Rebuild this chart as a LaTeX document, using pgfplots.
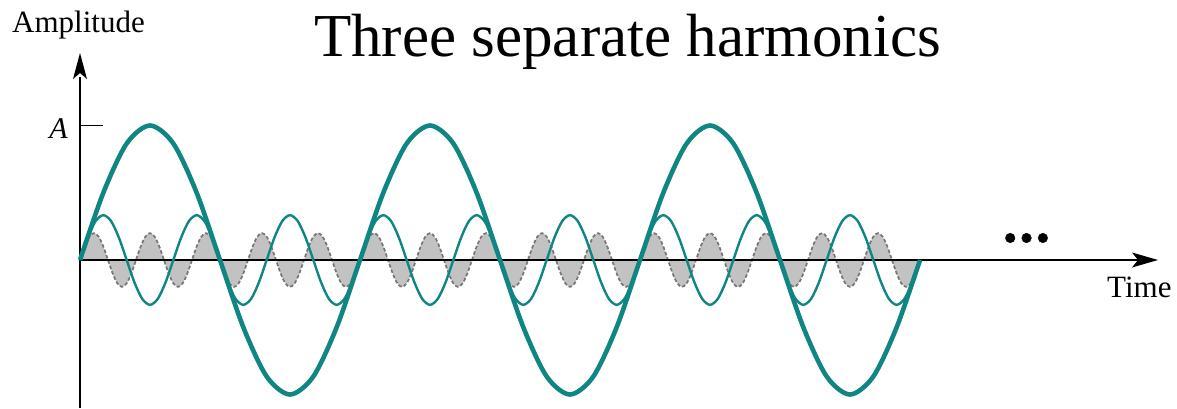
\documentclass[border=0pt]{standalone}
\usepackage{pgfplots}
\pgfplotsset{compat=1.18}
\usepackage{pgfplotstable}
\usepackage{fontspec}
\setmainfont{Liberation Serif}
\usetikzlibrary{arrows.meta}

\definecolor{wave}{RGB}{16,134,130}
\definecolor{fifthfill}{RGB}{194,194,194}
\definecolor{fifthline}{RGB}{118,118,118}

% Fundamental, amplitude A = 1 (phase in degrees of the fundamental)
\pgfplotstableread[row sep=\\]{
x y\\
0 0\\ 30 0.5\\ 60 0.866\\ 90 1\\ 120 0.866\\ 150 0.5\\ 180 0\\ 210 -0.5\\ 240 -0.866\\ 270 -1\\ 300 -0.866\\ 330 -0.5\\
360 0\\ 390 0.5\\ 420 0.866\\ 450 1\\ 480 0.866\\ 510 0.5\\ 540 0\\ 570 -0.5\\ 600 -0.866\\ 630 -1\\ 660 -0.866\\ 690 -0.5\\
720 0\\ 750 0.5\\ 780 0.866\\ 810 1\\ 840 0.866\\ 870 0.5\\ 900 0\\ 930 -0.5\\ 960 -0.866\\ 990 -1\\ 1020 -0.866\\ 1050 -0.5\\
1080 0\\
}\first

% Third harmonic, amplitude A/3
\pgfplotstableread[row sep=\\]{
x y\\
0 0\\ 10 0.1667\\ 20 0.2887\\ 30 0.3333\\ 40 0.2887\\ 50 0.1667\\ 60 0\\ 70 -0.1667\\ 80 -0.2887\\ 90 -0.3333\\ 100 -0.2887\\ 110 -0.1667\\
120 0\\ 130 0.1667\\ 140 0.2887\\ 150 0.3333\\ 160 0.2887\\ 170 0.1667\\ 180 0\\ 190 -0.1667\\ 200 -0.2887\\ 210 -0.3333\\ 220 -0.2887\\ 230 -0.1667\\
240 0\\ 250 0.1667\\ 260 0.2887\\ 270 0.3333\\ 280 0.2887\\ 290 0.1667\\ 300 0\\ 310 -0.1667\\ 320 -0.2887\\ 330 -0.3333\\ 340 -0.2887\\ 350 -0.1667\\
360 0\\ 370 0.1667\\ 380 0.2887\\ 390 0.3333\\ 400 0.2887\\ 410 0.1667\\ 420 0\\ 430 -0.1667\\ 440 -0.2887\\ 450 -0.3333\\ 460 -0.2887\\ 470 -0.1667\\
480 0\\ 490 0.1667\\ 500 0.2887\\ 510 0.3333\\ 520 0.2887\\ 530 0.1667\\ 540 0\\ 550 -0.1667\\ 560 -0.2887\\ 570 -0.3333\\ 580 -0.2887\\ 590 -0.1667\\
600 0\\ 610 0.1667\\ 620 0.2887\\ 630 0.3333\\ 640 0.2887\\ 650 0.1667\\ 660 0\\ 670 -0.1667\\ 680 -0.2887\\ 690 -0.3333\\ 700 -0.2887\\ 710 -0.1667\\
720 0\\ 730 0.1667\\ 740 0.2887\\ 750 0.3333\\ 760 0.2887\\ 770 0.1667\\ 780 0\\ 790 -0.1667\\ 800 -0.2887\\ 810 -0.3333\\ 820 -0.2887\\ 830 -0.1667\\
840 0\\ 850 0.1667\\ 860 0.2887\\ 870 0.3333\\ 880 0.2887\\ 890 0.1667\\ 900 0\\ 910 -0.1667\\ 920 -0.2887\\ 930 -0.3333\\ 940 -0.2887\\ 950 -0.1667\\
960 0\\ 970 0.1667\\ 980 0.2887\\ 990 0.3333\\ 1000 0.2887\\ 1010 0.1667\\ 1020 0\\ 1030 -0.1667\\ 1040 -0.2887\\ 1050 -0.3333\\ 1060 -0.2887\\ 1070 -0.1667\\
1080 0\\
}\third

% Fifth harmonic, amplitude A/5
\pgfplotstableread[row sep=\\]{
x y\\
0 0\\ 6 0.1\\ 12 0.1732\\ 18 0.2\\ 24 0.1732\\ 30 0.1\\ 36 0\\ 42 -0.1\\ 48 -0.1732\\ 54 -0.2\\ 60 -0.1732\\ 66 -0.1\\
72 0\\ 78 0.1\\ 84 0.1732\\ 90 0.2\\ 96 0.1732\\ 102 0.1\\ 108 0\\ 114 -0.1\\ 120 -0.1732\\ 126 -0.2\\ 132 -0.1732\\ 138 -0.1\\
144 0\\ 150 0.1\\ 156 0.1732\\ 162 0.2\\ 168 0.1732\\ 174 0.1\\ 180 0\\ 186 -0.1\\ 192 -0.1732\\ 198 -0.2\\ 204 -0.1732\\ 210 -0.1\\
216 0\\ 222 0.1\\ 228 0.1732\\ 234 0.2\\ 240 0.1732\\ 246 0.1\\ 252 0\\ 258 -0.1\\ 264 -0.1732\\ 270 -0.2\\ 276 -0.1732\\ 282 -0.1\\
288 0\\ 294 0.1\\ 300 0.1732\\ 306 0.2\\ 312 0.1732\\ 318 0.1\\ 324 0\\ 330 -0.1\\ 336 -0.1732\\ 342 -0.2\\ 348 -0.1732\\ 354 -0.1\\
360 0\\ 366 0.1\\ 372 0.1732\\ 378 0.2\\ 384 0.1732\\ 390 0.1\\ 396 0\\ 402 -0.1\\ 408 -0.1732\\ 414 -0.2\\ 420 -0.1732\\ 426 -0.1\\
432 0\\ 438 0.1\\ 444 0.1732\\ 450 0.2\\ 456 0.1732\\ 462 0.1\\ 468 0\\ 474 -0.1\\ 480 -0.1732\\ 486 -0.2\\ 492 -0.1732\\ 498 -0.1\\
504 0\\ 510 0.1\\ 516 0.1732\\ 522 0.2\\ 528 0.1732\\ 534 0.1\\ 540 0\\ 546 -0.1\\ 552 -0.1732\\ 558 -0.2\\ 564 -0.1732\\ 570 -0.1\\
576 0\\ 582 0.1\\ 588 0.1732\\ 594 0.2\\ 600 0.1732\\ 606 0.1\\ 612 0\\ 618 -0.1\\ 624 -0.1732\\ 630 -0.2\\ 636 -0.1732\\ 642 -0.1\\
648 0\\ 654 0.1\\ 660 0.1732\\ 666 0.2\\ 672 0.1732\\ 678 0.1\\ 684 0\\ 690 -0.1\\ 696 -0.1732\\ 702 -0.2\\ 708 -0.1732\\ 714 -0.1\\
720 0\\ 726 0.1\\ 732 0.1732\\ 738 0.2\\ 744 0.1732\\ 750 0.1\\ 756 0\\ 762 -0.1\\ 768 -0.1732\\ 774 -0.2\\ 780 -0.1732\\ 786 -0.1\\
792 0\\ 798 0.1\\ 804 0.1732\\ 810 0.2\\ 816 0.1732\\ 822 0.1\\ 828 0\\ 834 -0.1\\ 840 -0.1732\\ 846 -0.2\\ 852 -0.1732\\ 858 -0.1\\
864 0\\ 870 0.1\\ 876 0.1732\\ 882 0.2\\ 888 0.1732\\ 894 0.1\\ 900 0\\ 906 -0.1\\ 912 -0.1732\\ 918 -0.2\\ 924 -0.1732\\ 930 -0.1\\
936 0\\ 942 0.1\\ 948 0.1732\\ 954 0.2\\ 960 0.1732\\ 966 0.1\\ 972 0\\ 978 -0.1\\ 984 -0.1732\\ 990 -0.2\\ 996 -0.1732\\ 1002 -0.1\\
1008 0\\ 1014 0.1\\ 1020 0.1732\\ 1026 0.2\\ 1032 0.1732\\ 1038 0.1\\ 1044 0\\ 1050 -0.1\\ 1056 -0.1732\\ 1062 -0.2\\ 1068 -0.1732\\ 1074 -0.1\\
1080 0\\
}\fifth

\begin{document}
\begin{tikzpicture}
\begin{axis}[
  at={(0,0)}, anchor=south west,
  scale only axis,
  width=1177pt, height=408pt,
  xmin=-102.857, xmax=1410.43,
  ymin=-1.10037, ymax=1.93309,
  hide axis,
  clip=false,
]
  % fifth harmonic: grey area and dashed outline
  \addplot[draw=none, fill=fifthfill, smooth] table[x=x,y=y]{\fifth} \closedcycle;
  \addplot[fifthline, line width=1.7pt, dash pattern=on 3.5pt off 2.2pt, smooth] table[x=x,y=y]{\fifth};

  % axes
  \draw[black, line width=2pt] (axis cs:0,-1.10037) -- (axis cs:0,1.36);
  \fill[black] (axis cs:0,1.539) -- ++(-7pt,-26pt) -- ++(7pt,6pt) -- ++(7pt,-6pt) -- cycle;
  \draw[black, line width=2.2pt] (axis cs:0,0) -- (axis cs:1360,0);
  \fill[black] (axis cs:1386,0) -- ++(-26pt,7.5pt) -- ++(6pt,-7.5pt) -- ++(-6pt,-7.5pt) -- cycle;
  \draw[black, line width=1.6pt] (axis cs:0,1) -- (axis cs:29.6,1);

  % third harmonic and fundamental
  \addplot[wave, line width=2.4pt, smooth] table[x=x,y=y]{\third};
  \addplot[wave, line width=4.6pt, smooth] table[x=x,y=y]{\first};

  % continuation dots
  \addplot[only marks, mark=*, mark size=4.8pt, black] coordinates {(1196,0.1636) (1217,0.1636) (1238,0.1636)};

  % labels
  \node[anchor=base west, font=\fontsize{31}{36}\selectfont, inner sep=0pt] at (axis cs:-87.4,1.695) {Amplitude};
  \node[anchor=base east, font=\fontsize{30}{36}\selectfont\itshape, inner sep=0pt] at (axis cs:-15.5,0.9045) {A};
  \node[anchor=base west, font=\fontsize{31}{36}\selectfont, inner sep=0pt] at (axis cs:1320.4,-0.2825) {Time};
  \node[anchor=base, font=\fontsize{61}{70}\selectfont, inner sep=0pt] at (axis cs:703.9,1.5167) {Three separate harmonics};
\end{axis}
\pgfresetboundingbox
\path[use as bounding box] (0,0) rectangle (1177pt,408pt);
\end{tikzpicture}
\end{document}
